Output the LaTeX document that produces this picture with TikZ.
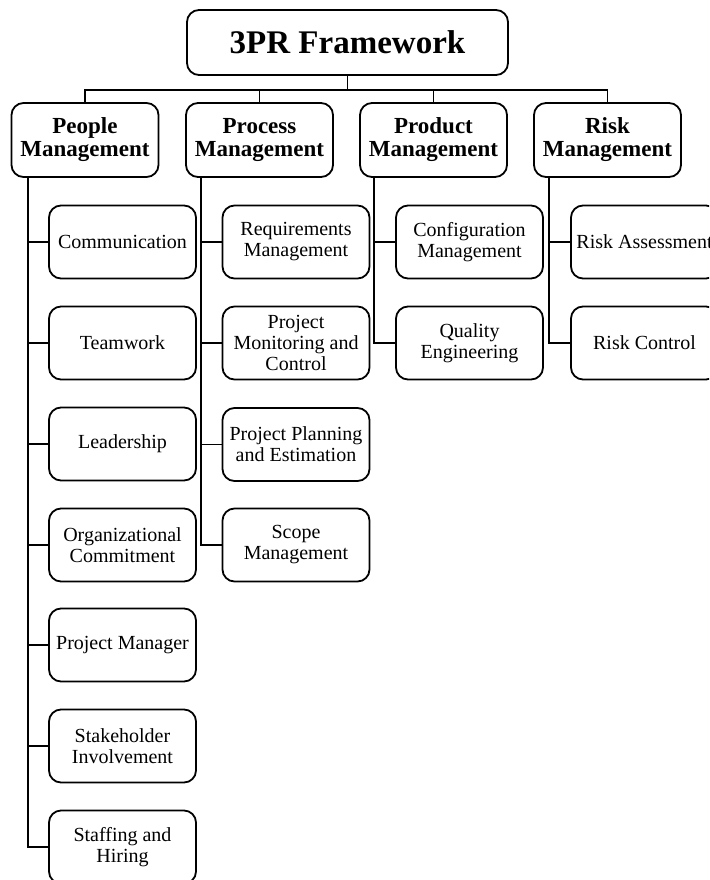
\documentclass[tikz,border=0pt]{standalone}
\usepackage{fontspec}
\setmainfont{Liberation Serif}
\begin{document}
\begin{tikzpicture}[x=1pt,y=-1pt,
    box/.style={draw,rounded corners=12pt,line width=1.8pt,align=center,inner sep=1pt},
    rootbox/.style={box,minimum width=321pt,minimum height=65pt,
      font=\bfseries\fontsize{33}{35}\selectfont},
    areabox/.style={box,minimum width=147pt,minimum height=74pt,
      font=\bfseries\fontsize{23}{23}\selectfont},
    itembox/.style={box,minimum width=147pt,minimum height=73pt,
      font=\fontsize{20}{21}\selectfont},
    link/.style={line width=1.5pt}]
    \useasboundingbox (0,0) rectangle (709,880);
    \clip (0,0) rectangle (709,880);

    % Root
    \node[rootbox] (root) at (347.5,42.5) {3PR Framework};

    % Four management areas
    \foreach \n/\x/\t in {ppl/85/People,prc/259.5/Process,prd/433.5/Product,rsk/607.5/Risk} {
      \node[areabox] (\n) at (\x,140) {\t\\Management};
    }
    \coordinate (bar) at (347.5,90);
    \draw[link] (root.south) -- (bar);
    \foreach \n in {ppl,prc,prd,rsk}
      \draw[link] (\n.north) |- (bar);

    % Spines below the areas
    \coordinate (sppl) at (28,0);
    \coordinate (sprc) at (201,0);
    \coordinate (sprd) at (374,0);
    \coordinate (srsk) at (549,0);

    % People management
    \foreach \i/\y/\t in {1/242/Communication,2/343/Teamwork,3/444/Leadership,
        4/545/{Organizational\\Commitment},5/645/Project Manager,
        6/746/{Stakeholder\\Involvement},7/847/{Staffing and\\Hiring}} {
      \node[itembox] (ppl\i) at (122.5,\y) {\t};
      \draw[link] (ppl.south -| sppl) |- (ppl\i.west);
    }

    % Process management
    \foreach \i/\y/\t in {1/242/{Requirements\\Management},
        2/343/{Project\\Monitoring and\\Control},
        3/444.5/{Project Planning\\and Estimation},4/545/{Scope\\Management}} {
      \node[itembox] (prc\i) at (296,\y) {\t};
      \draw[link] (prc.south -| sprc) |- (prc\i.west);
    }

    % Product management
    \foreach \i/\y/\t in {1/242/{Configuration\\Management},2/343/{Quality\\Engineering}} {
      \node[itembox] (prd\i) at (469.5,\y) {\t};
      \draw[link] (prd.south -| sprd) |- (prd\i.west);
    }

    % Risk management
    \foreach \i/\y/\t in {1/242/Risk Assessment,2/343/Risk Control} {
      \node[itembox] (rsk\i) at (644.5,\y) {\t};
      \draw[link] (rsk.south -| srsk) |- (rsk\i.west);
    }
  \end{tikzpicture}
\end{document}
